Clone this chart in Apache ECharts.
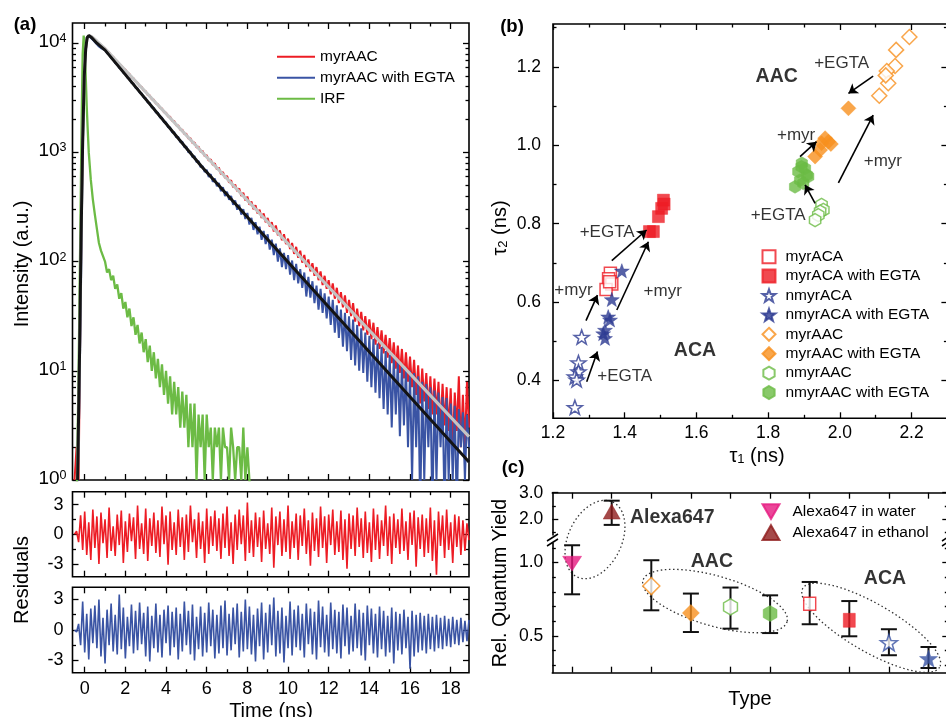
<!DOCTYPE html>
<html><head><meta charset="utf-8">
<script src="https://cdn.jsdelivr.net/npm/echarts@6/dist/echarts.min.js"></script>
<style>html,body{margin:0;padding:0;background:#fff}#c{width:946px;height:717px}</style>
</head><body><div id="c"></div>
<script>
// ======================= DATA =======================
// (a) decay channels: time grid (ns), -0.5 .. 18.9 step 0.1
const T0 = -0.5, DT = 0.1, NPTS = 195;
const timeNs = Array.from({length: NPTS}, (_, i) => +(T0 + i * DT).toFixed(2));
// log10(counts)
const myrAAC_log10 = [
 0,0.3,0,1.7,3.1,
 3.8,4.03,4.07,4.06,4.05,4.03,4.01,3.99,3.975,3.96,
 3.955,3.925,3.915,3.885,3.875,3.848,3.835,3.806,3.795,3.768,
 3.758,3.727,3.718,3.686,3.678,3.646,3.638,3.607,3.599,3.567,
 3.561,3.526,3.521,3.487,3.482,3.447,3.442,3.406,3.402,3.367,
 3.364,3.328,3.326,3.288,3.287,3.247,3.247,3.207,3.208,3.168,
 3.17,3.126,3.13,3.085,3.092,3.045,3.053,3.005,3.013,2.965,
 2.975,2.925,2.937,2.885,2.9,2.845,2.86,2.8,2.82,2.765,
 2.785,2.722,2.745,2.68,2.705,2.645,2.67,2.6,2.63,2.56,
 2.595,2.52,2.55,2.48,2.515,2.44,2.475,2.4,2.44,2.36,
 2.4,2.32,2.36,2.275,2.33,2.24,2.285,2.195,2.25,2.16,
 2.21,2.115,2.17,2.07,2.135,2.035,2.1,1.99,2.06,1.95,
 2.02,1.91,1.985,1.87,1.95,1.83,1.91,1.785,1.87,1.75,
 1.83,1.7,1.8,1.66,1.76,1.62,1.72,1.58,1.69,1.53,
 1.65,1.5,1.62,1.45,1.57,1.41,1.54,1.37,1.5,1.33,
 1.47,1.29,1.44,1.24,1.4,1.2,1.37,1.16,1.33,1.12,
 1.3,1.07,1.26,1.02,1.23,0.98,1.2,0.93,1.17,0.9,
 1.13,0.85,1.1,0.78,1.05,0.7,1.02,0.72,0.98,0.65,
 0.95,0.6,0.93,0.6,0.9,0.48,0.88,0.5,0.85,0.45,
 0.84,0.3,0.8,0.45,0.95,0.3,0.78,0.3,0.9,0.48
];
const myrAAC_EGTA_log10 = [
 -0.3,-0.3,0.3,1.5,3.0,
 3.78,4.03,4.065,4.05,4.03,4.01,3.99,3.97,3.955,3.945,
 3.94,3.908,3.897,3.863,3.852,3.818,3.808,3.773,3.763,3.728,
 3.719,3.682,3.674,3.637,3.63,3.592,3.585,3.547,3.54,3.502,
 3.496,3.456,3.452,3.41,3.408,3.365,3.363,3.32,3.318,3.275,
 3.275,3.23,3.23,3.183,3.186,3.138,3.142,3.093,3.098,3.047,
 3.054,3.0,3.01,2.955,2.966,2.91,2.92,2.865,2.875,2.82,
 2.84,2.775,2.8,2.73,2.76,2.69,2.72,2.645,2.68,2.6,
 2.64,2.565,2.6,2.52,2.56,2.475,2.52,2.43,2.48,2.39,
 2.445,2.34,2.4,2.29,2.36,2.25,2.32,2.2,2.28,2.16,
 2.25,2.11,2.2,2.06,2.165,2.0,2.12,1.95,2.08,1.93,
 2.06,1.88,2.01,1.83,1.98,1.8,1.93,1.76,1.9,1.68,
 1.86,1.67,1.82,1.62,1.78,1.56,1.75,1.53,1.71,1.48,
 1.68,1.42,1.65,1.35,1.6,1.3,1.56,1.22,1.53,1.18,
 1.5,1.1,1.47,1.05,1.42,1.0,1.39,0.98,1.35,0.9,
 1.32,0.85,1.29,0.8,1.25,0.75,1.22,0.65,1.18,0.6,
 1.15,0.48,1.12,0.6,1.1,0.4,1.06,0.5,1.03,0.3,
 1.0,0.0,0.98,0.3,0.95,-0.3,0.9,0.0,0.88,0.3,
 0.85,-0.3,0.82,0.0,0.8,0.3,0.76,-0.3,0.75,0.0,
 0.7,0.0,0.68,-0.3,0.65,0.3,0.62,0.0,0.6,0.3
];
// IRF: [time ns, log10(counts)]
const irf_log10 = [
 [-0.45,-0.3],[-0.38,0],[-0.3,1.0],[-0.22,2.2],[-0.15,3.3],[-0.1,3.9],[-0.05,4.07],[0,3.95],[0.05,3.7],
 [0.1,3.42],[0.15,3.2],[0.2,3.0],[0.3,2.75],[0.4,2.57],[0.5,2.43],[0.6,2.3],[0.7,2.17],[0.8,2.1],[0.9,2.05],
 [1.0,2.0],[1.1,1.9],[1.2,1.93],[1.3,1.83],[1.4,1.87],[1.5,1.75],[1.6,1.79],[1.7,1.66],[1.8,1.71],[1.9,1.57],
 [2.0,1.63],[2.1,1.49],[2.2,1.57],[2.3,1.41],[2.4,1.49],[2.5,1.33],[2.6,1.42],[2.7,1.25],[2.8,1.35],[2.9,1.17],
 [3.0,1.29],[3.1,1.08],[3.2,1.23],[3.3,1.0],[3.4,1.17],[3.5,0.93],[3.6,1.11],[3.7,0.85],[3.8,1.06],[3.9,0.78],
 [4.0,1.0],[4.1,0.7],[4.2,0.95],[4.3,0.6],[4.4,0.9],[4.5,0.6],[4.6,0.85],[4.7,0.48],[4.8,0.81],[4.9,0.48],
 [5.0,0.78],[5.1,0.3],[5.2,0.7],[5.3,0.3],[5.4,0.7],[5.5,0.0],[5.6,0.6],[5.7,0.3],[5.8,0.6],[5.9,0.0],
 [6.0,0.6],[6.1,0.3],[6.2,0.48],[6.3,0.0],[6.4,0.48],[6.5,0.3],[6.6,0.48],[6.7,0.0],[6.8,0.48],[6.9,0.3],
 [7.0,0.3],[7.1,0.0],[7.2,0.48],[7.3,0.3],[7.4,0.0],[7.5,0.3],[7.6,0.3],[7.7,0.0],[7.8,0.48],[7.9,0.0],
 [8.0,0.3],[8.1,0.0],[8.2,-0.3]
];
// fitted curves: [time ns, log10(counts)]
const fitMyrAAC_log10 = [[-0.35,0],[-0.25,1.2],[-0.18,2.2],[-0.1,3.1],[-0.02,3.7],[0.05,3.95],[0.12,4.05],[0.2,4.07],[0.35,4.06],[0.6,4.02],[1.0,3.95],[18.9,0.397]];
const fitMyrAAC_EGTA_log10 = [[-0.35,0],[-0.25,1.2],[-0.18,2.2],[-0.1,3.1],[-0.02,3.7],[0.05,3.95],[0.12,4.05],[0.2,4.07],[0.35,4.05],[0.6,4.0],[1.0,3.936],[5.76,2.868],[18.9,0.165]];
// weighted residuals
const resMyrAAC = [
 0,0.3,-0.8,1.9,-1.6,2.3,-2.1,1.2,-2.6,2.5,
 -1.4,1.8,-3.0,2.2,-0.9,1.5,-2.4,2.7,-1.7,0.8,
 -2.2,2.0,-1.1,2.4,-2.9,1.3,-1.8,2.1,-0.7,1.7,
 -2.5,2.9,-1.5,1.1,-2.0,2.6,-2.7,1.6,-1.2,2.2,
 -1.9,1.4,-2.3,2.8,-1.0,1.9,-3.1,2.3,-1.6,1.2,
 -2.1,2.5,-1.3,1.7,-2.6,2.0,-1.8,2.9,-0.8,1.5,
 -2.4,2.2,-1.5,1.3,-2.9,2.6,-2.0,1.8,-1.2,2.4,
 -1.7,1.6,-2.5,2.1,-1.4,2.8,-2.2,1.2,-3.0,2.0,
 -1.6,2.5,-1.0,1.9,-2.7,3.2,-1.9,1.4,-2.3,2.2,
 -1.3,1.7,-2.8,2.4,-1.5,1.1,-2.0,2.7,-3.4,1.8,
 -1.1,2.3,-2.2,1.5,-1.8,2.9,-2.5,1.3,-1.4,2.1,
 -2.6,1.9,-1.2,2.6,-2.0,1.4,-3.2,2.2,-1.7,1.6,
 -2.3,2.8,-1.4,1.8,-2.9,2.0,-1.1,2.5,-2.1,1.3,
 -1.8,2.4,-2.6,1.5,-3.5,2.1,-1.5,1.9,-2.2,2.7,
 -1.3,1.6,-2.4,2.3,-1.9,1.2,-2.8,2.6,-1.6,2.0,
 -2.5,1.4,-1.2,2.9,-2.2,1.8,-3.0,2.1,-1.4,1.5,
 -2.0,2.6,-1.7,1.3,-2.6,2.2,-1.1,2.4,-3.3,1.7,
 -1.5,2.0,-2.3,1.6,-1.9,2.7,-2.7,1.4,-4.1,2.3,
 -1.2,1.9,-2.4,2.5,-1.6,1.2,-2.9,2.0,-1.3,1.8,
 -2.1,1.4,-1.7,1.1,-0.6
];
const resMyrAAC_EGTA = [
 0,-0.2,0.6,-1.5,2.8,-2.2,1.6,-2.9,2.1,-1.3,
 2.4,-1.8,3.0,-2.6,1.2,-3.3,2.0,-1.5,2.6,-2.1,
 1.5,-2.4,3.5,-1.9,2.2,-2.8,1.3,-1.6,2.5,-2.3,
 1.9,-2.0,2.7,-1.4,1.7,-2.6,2.3,-3.1,1.4,-1.8,
 2.6,-2.2,1.5,-2.7,2.0,-1.3,2.4,-2.5,1.8,-1.7,
 2.2,-2.9,1.6,-2.1,2.8,-1.5,1.9,-2.4,2.5,-3.0,
 1.3,-1.9,2.3,-2.6,1.7,-2.2,2.7,-1.6,2.0,-2.8,
 1.5,-2.3,2.4,-1.8,2.9,-2.5,1.6,-2.0,2.2,-1.4,
 2.6,-2.7,1.8,-2.1,3.0,-1.9,2.3,-2.4,1.5,-3.1,
 2.1,-1.6,2.7,-2.9,1.7,-2.2,2.5,-1.5,3.2,-2.6,
 1.9,-2.3,2.2,-3.2,1.4,-1.8,2.8,-2.5,2.0,-1.7,
 2.4,-2.0,1.6,-2.7,2.6,-1.4,2.1,-2.4,1.8,-2.9,
 2.9,-1.7,2.3,-2.2,1.5,-2.6,2.7,-1.9,2.0,-2.3,
 1.8,-2.8,2.5,-1.6,2.2,-2.4,1.4,-2.1,2.6,-1.8,
 2.0,-2.5,1.7,-3.0,2.4,-1.5,2.1,-2.3,1.6,-2.7,
 2.3,-1.9,1.9,-2.6,1.4,-2.2,2.2,-3.3,1.8,-2.0,
 1.6,-2.4,2.0,-1.8,1.3,-3.8,1.9,-2.6,1.5,-2.2,
 1.7,-2.0,1.4,-2.3,1.6,-1.9,1.3,-2.1,1.5,-1.8,
 1.2,-1.9,1.4,-1.6,1.1,-1.7,1.3,-1.4,1.0,-1.5,
 1.2,-1.2,0.9,-1.1,1.0
];
const logTickLabels = [1, 10, 100, 1000, 10000];
const logMinorTicks = [2,3,4,5,6,7,8,9,20,30,40,50,60,70,80,90,200,300,400,500,600,700,800,900,2000,3000,4000,5000,6000,7000,8000,9000];
const timeTickLabels = [0,2,4,6,8,10,12,14,16,18];
const timeMinorTicks = [1,3,5,7,9,11,13,15,17];
const residTickLabels = [-3,0,3];
const residMinorTicks = [-1.5,1.5];

// (b) [tau1 ns, tau2 ns]
const b_myrACA = [[1.36,0.674],[1.355,0.66],[1.364,0.646],[1.348,0.632],[1.358,0.652]];
const b_myrACA_EGTA = [[1.508,0.86],[1.503,0.839],[1.494,0.818],[1.48,0.78],[1.469,0.78],[1.51,0.85]];
const b_nmyrACA = [[1.28,0.511],[1.271,0.446],[1.271,0.423],[1.261,0.41],[1.266,0.402],[1.261,0.332]];
const b_nmyrACA_EGTA = [[1.392,0.68],[1.364,0.607],[1.354,0.563],[1.359,0.555],[1.345,0.529],[1.345,0.508],[1.34,0.52]];
const b_myrAAC = [[2.194,1.276],[2.157,1.243],[2.154,1.202],[2.131,1.189],[2.135,1.158],[2.110,1.126],[2.128,1.178]];
const b_myrAAC_EGTA = [[2.024,1.094],[1.959,1.018],[1.968,1.009],[1.949,1.005],[1.945,0.988],[1.931,0.971],[1.975,1.003]];
const b_nmyrAAC = [[1.949,0.848],[1.954,0.835],[1.945,0.831],[1.94,0.822],[1.931,0.809]];
const b_nmyrAAC_EGTA = [[1.894,0.954],[1.903,0.941],[1.908,0.924],[1.889,0.911],[1.912,0.92],[1.875,0.894],[1.898,0.903],[1.884,0.933],[1.893,0.945]];
const tau1TickLabels = [1.2,1.4,1.6,1.8,2.0,2.2];
const tau1MinorTicks = [1.3,1.5,1.7,1.9,2.1,2.3];
const tau2TickLabels = [0.4,0.6,0.8,1.0,1.2];
const tau2MinorTicks = [0.5,0.7,0.9,1.1,1.3];
// (b) arrows [x1,y1,x2,y2] and notes [text,x,y]
const b_arrows = [[2.093,1.176,2.024,1.132],[1.889,0.971,1.935,1.009],[1.996,0.904,2.093,1.077],[1.931,0.852,1.903,0.899],
  [1.364,0.706,1.461,0.784],[1.292,0.553,1.324,0.618],[1.378,0.58,1.466,0.754],[1.294,0.397,1.324,0.474]];
const b_notes = [['+EGTA',2.005,1.209],['+myr',1.878,1.026],['+myr',2.12,0.958],['+EGTA',1.828,0.822],
  ['+EGTA',1.351,0.779],['+myr',1.257,0.629],['+myr',1.506,0.627],['+EGTA',1.40,0.41]];
const b_groups = [['AAC',1.824,1.175],['ACA',1.596,0.476]];

// (c) relative quantum yield
const c_types = ['Alexa647 in water','Alexa647 in ethanol','myrAAC','myrAAC with EGTA','nmyrAAC','nmyrAAC with EGTA','myrACA','myrACA with EGTA','nmyrACA','nmyrACA with EGTA'];
const c_yield = [0.993,2.29,0.84,0.657,0.698,0.653,0.72,0.607,0.455,0.346];
const c_low   = [0.784,1.79,0.675,0.527,0.55,0.52,0.58,0.498,0.369,0.282];
const c_high  = [1.118,2.7,1.016,0.789,0.83,0.777,0.868,0.738,0.546,0.425];
const c_breakAt = 1.3;
const c_upperTickLabels = [2.0,3.0], c_upperMinorTicks = [1.5,2.5];
const c_lowerTickLabels = [0.5,1.0], c_lowerMinorTicks = [0.3,0.4,0.6,0.7,0.8,0.9,1.1];
const c_groups = [['AAC',4.53,1.004],['ACA',8.9,0.893]];

// ======================= STYLE / LAYOUT =======================
const FONT = "'Liberation Sans', Arial, Helvetica, sans-serif";
const C_RED='#ed1c24', C_BLUE='#3a54a4', C_NAVY='#2c3a91', C_GREEN='#6cbb45', C_ORANGE='#f7901e', C_PINK='#e6197f', C_DRED='#8e1b1b';
const SYM_STAR = 'path://M0,-10L2.351,-3.236L9.511,-3.09L3.804,1.236L5.878,8.09L0,4L-5.878,8.09L-3.804,1.236L-9.511,-3.09L-2.351,-3.236Z';
const SYM_HEX = 'path://M0,-10L8.66,-5L8.66,5L0,10L-8.66,5L-8.66,-5Z';
const SYM_TRI_DOWN = 'path://M-10,-8.66L10,-8.66L0,8.66Z';
const L = {
  a:{left:72.5, top:23, width:396.5, height:457},
  r1:{left:72.5, top:491.7, width:396.5, height:85},
  r2:{left:72.5, top:587.3, width:396.5, height:85.4},
  b:{left:553, top:24, width:394.4, height:394.3},
  cu:{left:552.3, top:492.7, width:396, height:42.3},
  cl:{left:552.3, top:543.5, width:396, height:129.2}
};
const grids = [
  Object.assign({show:true, borderColor:'#000', borderWidth:1.6}, L.a),
  Object.assign({show:true, borderColor:'#000', borderWidth:1.6}, L.r1),
  Object.assign({show:true, borderColor:'#000', borderWidth:1.6}, L.r2),
  Object.assign({show:true, borderColor:'#000', borderWidth:1.6}, L.b),
  Object.assign({show:false}, L.cu),
  Object.assign({show:false}, L.cl)
].map(g => Object.assign(g, {containLabel:false, outerBoundsMode:'none', backgroundColor:'transparent'}));

function ax(g, o) {
  const a = {
    type: o.type || 'value', gridIndex: g, min: o.min, max: o.max, position: o.pos,
    splitLine: {show:false},
    axisLine: {show: !!o.line, onZero: false, lineStyle: {color:'#000', width:1.6}},
    axisTick: {show: !!o.ticks, inside: true, length: o.len || 6, customValues: o.ticks, lineStyle: {color:'#000', width:1.3}},
    axisLabel: o.labels ? {show:true, customValues:o.labels, formatter:o.fmt, margin:o.margin || 7, color:'#000',
      fontFamily:FONT, fontSize:o.fs || 17.5, rich:o.rich, padding:o.pad} : {show:false},
    axisPointer: {show:false}, silent: true
  };
  if (o.type === 'log') a.logBase = 10;
  return a;
}
const xAxes = [], yAxes = [];
const addX = (g, o) => (xAxes.push(ax(g, o)), xAxes.length - 1);
const addY = (g, o) => (yAxes.push(ax(g, o)), yAxes.length - 1);
function frameX(g, min, max, major, minor, labels, fmt) {
  const i = addX(g, {min, max, pos:'bottom', ticks:major, labels, fmt, fs:18, margin:7});
  addX(g, {min, max, pos:'bottom', ticks:minor, len:3.5});
  addX(g, {min, max, pos:'top', ticks:major});
  addX(g, {min, max, pos:'top', ticks:minor, len:3.5});
  return i;
}
function frameY(g, o, major, minor) {
  const i = addY(g, Object.assign({pos:'left', ticks:major}, o));
  const base = {type:o.type, min:o.min, max:o.max};
  addY(g, Object.assign({pos:'left', ticks:minor, len:3.5}, base));
  addY(g, Object.assign({pos:'right', ticks:major}, base));
  addY(g, Object.assign({pos:'right', ticks:minor, len:3.5}, base));
  return i;
}
const TMIN = -0.6, TMAX = 18.9;
const XA = frameX(0, TMIN, TMAX, timeTickLabels, timeMinorTicks);
const YA = frameY(0, {type:'log', min:1, max:15300, labels:logTickLabels, margin:6, pad:[0,0,3,0],
  fmt: v => '{b|10}{s|' + Math.round(Math.log10(v)) + '}',
  rich: {b:{fontSize:19, fontFamily:FONT, color:'#000', lineHeight:19, padding:[6,0,0,0], verticalAlign:'bottom'},
         s:{fontSize:12.5, fontFamily:FONT, color:'#000', lineHeight:13, verticalAlign:'top'}}}, logTickLabels, logMinorTicks);
const XR1 = frameX(1, TMIN, TMAX, timeTickLabels, timeMinorTicks);
const YR1 = frameY(1, {min:-4.3, max:4.3, labels:residTickLabels, margin:9, fs:18}, residTickLabels, residMinorTicks);
const XR2 = frameX(2, TMIN, TMAX, timeTickLabels, timeMinorTicks, timeTickLabels, v => String(v));
const YR2 = frameY(2, {min:-4.2, max:4.2, labels:residTickLabels, margin:9, fs:18}, residTickLabels, residMinorTicks);
const XB = addX(3, {min:1.2, max:2.3, pos:'bottom', ticks:tau1TickLabels, labels:tau1TickLabels, fmt:v=>v.toFixed(1), margin:6});
addX(3, {min:1.2, max:2.3, pos:'bottom', ticks:tau1MinorTicks, len:3.5});
addX(3, {min:1.2, max:2.3, pos:'top', ticks:tau1TickLabels});
addX(3, {min:1.2, max:2.3, pos:'top', ticks:tau1MinorTicks, len:3.5});
const YB = frameY(3, {min:0.304, max:1.309, labels:tau2TickLabels, fmt:v=>v.toFixed(1), margin:12}, tau2TickLabels, tau2MinorTicks);
const typeTicks = c_types.map((_, i) => i + 1);
const XCU = addX(4, {min:0.5, max:10.5, pos:'bottom'});
addX(4, {min:0.5, max:10.5, pos:'top', line:true, ticks:typeTicks});
const XCL = addX(5, {min:0.5, max:10.5, pos:'bottom', line:true, ticks:typeTicks});
const YCU = addY(4, {min:1.41, max:3.0, pos:'left', line:true, ticks:c_upperTickLabels, labels:c_upperTickLabels, fmt:v=>v.toFixed(1), margin:9});
addY(4, {min:1.41, max:3.0, pos:'left', ticks:c_upperMinorTicks, len:3.5});
addY(4, {min:1.41, max:3.0, pos:'right', ticks:c_upperTickLabels});
addY(4, {min:1.41, max:3.0, pos:'right', ticks:c_upperMinorTicks, len:3.5});
const YCL = addY(5, {min:0.25, max:1.13, pos:'left', line:true, ticks:c_lowerTickLabels, labels:c_lowerTickLabels, fmt:v=>v.toFixed(1), margin:9});
addY(5, {min:0.25, max:1.13, pos:'left', ticks:c_lowerMinorTicks, len:3.5});
addY(5, {min:0.25, max:1.13, pos:'right', ticks:c_lowerTickLabels});
addY(5, {min:0.25, max:1.13, pos:'right', ticks:c_lowerMinorTicks, len:3.5});

// ======================= SERIES =======================
const pow10 = v => Math.pow(10, v);
const series = [];
const lineS = (name, xi, yi, data, color, width, z) => ({name, type:'line', xAxisIndex:xi, yAxisIndex:yi, data,
  symbol:'none', showSymbol:false, lineStyle:{color, width}, itemStyle:{color}, z: z || 2, clip:true, silent:true});
series.push(lineS('myrAAC', XA, YA, timeNs.map((t, i) => [t, pow10(myrAAC_log10[i])]), C_RED, 2));
series.push(lineS('myrAAC with EGTA', XA, YA, timeNs.map((t, i) => [t, pow10(myrAAC_EGTA_log10[i])]), C_BLUE, 2));
series.push(lineS('IRF', XA, YA, irf_log10.map(p => [p[0], pow10(p[1])]), C_GREEN, 2.3));
series.push(lineS('fit myrAAC', XA, YA, fitMyrAAC_log10.map(p => [p[0], pow10(p[1])]), '#c4c4c4', 3, 3));
series.push(lineS('fit myrAAC with EGTA', XA, YA, fitMyrAAC_EGTA_log10.map(p => [p[0], pow10(p[1])]), '#141414', 3, 3));
series.push(lineS('residuals myrAAC', XR1, YR1, timeNs.map((t, i) => [t, resMyrAAC[i]]), C_RED, 1.6));
series.push(lineS('residuals myrAAC with EGTA', XR2, YR2, timeNs.map((t, i) => [t, resMyrAAC_EGTA[i]]), C_BLUE, 1.6));

// (b)
const openS = c => ({color:'#fff', borderColor:c, borderWidth:1.5});
const fillS = c => ({color:c, borderColor:c, borderWidth:0.5});
const bDefs = [
  ['b:myrACA', b_myrACA, 'rect', 12, openS(C_RED)],
  ['b:myrACA with EGTA', b_myrACA_EGTA, 'rect', 12, fillS(C_RED)],
  ['b:nmyrACA', b_nmyrACA, SYM_STAR, 15, openS(C_NAVY)],
  ['b:nmyrACA with EGTA', b_nmyrACA_EGTA, SYM_STAR, 15, fillS(C_NAVY)],
  ['b:myrAAC', b_myrAAC, 'diamond', 15, openS(C_ORANGE)],
  ['b:myrAAC with EGTA', b_myrAAC_EGTA, 'diamond', 15, fillS(C_ORANGE)],
  ['b:nmyrAAC', b_nmyrAAC, SYM_HEX, 13, openS(C_GREEN)],
  ['b:nmyrAAC with EGTA', b_nmyrAAC_EGTA, SYM_HEX, 13, fillS(C_GREEN)]
];
bDefs.forEach(d => series.push({name:d[0], type:'scatter', xAxisIndex:XB, yAxisIndex:YB, data:d[1],
  symbol:d[2], symbolSize:d[3], symbolKeepAspect:true, itemStyle:d[4], z:4, silent:true}));
series.push({name:'b-notes', type:'scatter', xAxisIndex:XB, yAxisIndex:YB, symbolSize:0, silent:true, z:5,
  data: b_notes.map(n => ({name:n[0], value:[n[1], n[2]]})).concat(
        b_groups.map(n => ({name:n[0], value:[n[1], n[2]], label:{fontWeight:'bold', fontSize:19.5}}))),
  label:{show:true, position:'inside', formatter:p => p.name, color:'#000', fontFamily:FONT, fontSize:17},
  markLine:{silent:true, symbol:['none','arrow'], symbolSize:9, label:{show:false},
    lineStyle:{color:'#000', width:1.6, type:'solid'},
    data: b_arrows.map(a => [{coord:[a[0], a[1]]}, {coord:[a[2], a[3]]}])}
});

// (c)
const cStyles = [
  [SYM_TRI_DOWN, [19,17], fillS(C_PINK)], ['triangle', [17,15], fillS(C_DRED)],
  ['diamond', 17, openS(C_ORANGE)], ['diamond', 17, fillS(C_ORANGE)],
  [SYM_HEX, 16, openS(C_GREEN)], [SYM_HEX, 16, fillS(C_GREEN)],
  ['rect', [12,13], openS(C_RED)], ['rect', [12,14], fillS(C_RED)],
  [SYM_STAR, 17, openS(C_BLUE)], [SYM_STAR, 18, fillS(C_BLUE)]
];
const upper = i => c_yield[i] > c_breakAt;
const errRender = (params, api) => {
  const x = api.value(0), p1 = api.coord([x, api.value(1)]), p2 = api.coord([x, api.value(2)]), w = 8;
  const st = {stroke:'#111', lineWidth:2};
  return {type:'group', children:[
    {type:'line', shape:{x1:p1[0], y1:p1[1], x2:p2[0], y2:p2[1]}, style:st},
    {type:'line', shape:{x1:p1[0]-w, y1:p1[1], x2:p1[0]+w, y2:p1[1]}, style:st},
    {type:'line', shape:{x1:p2[0]-w, y1:p2[1], x2:p2[0]+w, y2:p2[1]}, style:st}]};
};
[[XCU, YCU, true], [XCL, YCL, false]].forEach(([xi, yi, up]) => {
  series.push({name: up ? 'err-upper' : 'err-lower', type:'custom', xAxisIndex:xi, yAxisIndex:yi, silent:true, clip:false, z:3,
    encode:{x:0, y:[1,2]}, renderItem:errRender,
    data: c_types.map((_, i) => i).filter(i => upper(i) === up).map(i => [i + 1, c_low[i], c_high[i]])});
});
c_types.forEach((t, i) => {
  const s = cStyles[i];
  series.push({name:'c:' + t, type:'scatter', xAxisIndex: upper(i) ? XCU : XCL, yAxisIndex: upper(i) ? YCU : YCL,
    data:[[i + 1, c_yield[i]]], symbol:s[0], symbolSize:s[1], symbolKeepAspect:true, itemStyle:s[2], z:5, silent:true, clip:false});
});
// dotted group ellipses: [centre x, centre y (lower panel units), semi-axis a px, semi-axis b px, tilt deg]
const c_ellipses = [[1.578,1.157,41.5,26.7,64.6],[4.609,0.738,75,25,-16],[8.553,0.556,79,24,-30]];
series.push({name:'c-groups', type:'custom', xAxisIndex:XCL, yAxisIndex:YCL, clip:false, silent:true, z:2, encode:{x:0, y:1},
  data:c_ellipses,
  renderItem:(params, api) => {
    const c = api.coord([api.value(0), api.value(1)]), a = api.value(2), b = api.value(3), th = api.value(4) * Math.PI / 180;
    const pts = [];
    for (let k = 0; k < 90; k++) {
      const f = k / 90 * 2 * Math.PI, ux = a * Math.cos(f), uy = b * Math.sin(f);
      pts.push([c[0] + ux * Math.cos(th) + uy * Math.sin(th), c[1] - ux * Math.sin(th) + uy * Math.cos(th)]);
    }
    return {type:'polygon', shape:{points:pts}, style:{fill:'none', stroke:'#333', lineWidth:1.3, lineDash:[1.5,2.6]}};
  }});
series.push({name:'c-notes-lower', type:'scatter', xAxisIndex:XCL, yAxisIndex:YCL, symbolSize:0, silent:true, z:5, clip:false,
  data: c_groups.map(n => ({name:n[0], value:[n[1], n[2]]})),
  label:{show:true, position:'inside', formatter:p => p.name, color:'#000', fontFamily:FONT, fontSize:19.5, fontWeight:'bold'}});
series.push({name:'c-notes-upper', type:'scatter', xAxisIndex:XCU, yAxisIndex:YCU, symbolSize:0, silent:true, z:5, clip:false,
  data:[{name:'Alexa647', value:[2.46, 2.05]}],
  label:{show:true, position:'right', distance:0, formatter:p => p.name, color:'#000', fontFamily:FONT, fontSize:19.5, fontWeight:'bold'}});

// ======================= TEXT / LEGENDS =======================
const txt = (x, y, text, size, o) => Object.assign({type:'text', x, y, silent:true, z:20,
  style:{text, fontFamily:FONT, fontSize:size, fill:'#000', align:'center', verticalAlign:'middle'}}, o || {});
const boldTxt = (x, y, text) => ({type:'text', x, y, silent:true, z:20,
  style:{text, fontFamily:FONT, fontSize:18.5, fontWeight:'bold', fill:'#000', align:'center', verticalAlign:'middle'}});
const tauRich = {t:{fontSize:20, fontFamily:FONT, fill:'#000', lineHeight:20, padding:[0,0,6,0], verticalAlign:'top'},
                 s:{fontSize:13, fontFamily:FONT, fill:'#000', lineHeight:13, verticalAlign:'bottom'}};
const graphic = [
  boldTxt(25, 25, '(a)'), boldTxt(512, 27, '(b)'), boldTxt(513, 468, '(c)'),
  txt(22, 264, 'Intensity (a.u.)', 20, {rotation:Math.PI/2}),
  txt(22, 580, 'Residuals', 20, {rotation:Math.PI/2}),
  txt(271, 711, 'Time (ns)', 20),
  txt(750, 699, 'Type', 20),
  txt(501, 583, 'Rel. Quantum Yield', 19.5, {rotation:Math.PI/2}),
  {type:'text', x:757, y:456, silent:true, z:20, style:{text:'{t|τ}{s|1}{t| (ns)}', rich:tauRich, align:'center', verticalAlign:'middle'}},
  {type:'text', x:500, y:228, rotation:Math.PI/2, silent:true, z:20, style:{text:'{t|τ}{s|2}{t| (ns)}', rich:tauRich, align:'center', verticalAlign:'middle'}},
  {type:'line', silent:true, z:20, shape:{x1:547, y1:541, x2:558, y2:534}, style:{stroke:'#000', lineWidth:1.5}},
  {type:'line', silent:true, z:20, shape:{x1:547, y1:546, x2:558, y2:539}, style:{stroke:'#000', lineWidth:1.5}},
  {type:'line', silent:true, z:20, shape:{x1:942, y1:541, x2:953, y2:534}, style:{stroke:'#000', lineWidth:1.5}},
  {type:'line', silent:true, z:20, shape:{x1:942, y1:546, x2:953, y2:539}, style:{stroke:'#000', lineWidth:1.5}}
];
const legTS = {fontFamily:FONT, fontSize:15.5, color:'#000'};
const legends = [
  {data:['myrAAC','myrAAC with EGTA','IRF'], orient:'vertical', left:277, top:48.7, padding:0, icon:'rect',
   itemWidth:38, itemHeight:2, itemGap:5, selectedMode:false, textStyle:Object.assign({}, legTS)},
  {data:bDefs.map(d => d[0]), formatter:n => n.slice(2), orient:'vertical', left:761.5, top:248.7, padding:0,
   itemWidth:13, itemHeight:13, itemGap:3.4, selectedMode:false, textStyle:Object.assign({padding:[0,0,0,5]}, legTS)},
  {data:['c:Alexa647 in water','c:Alexa647 in ethanol'], formatter:n => n.slice(2), orient:'vertical', left:761.5, top:503.2, padding:0,
   itemWidth:17, itemHeight:15, itemGap:4.2, selectedMode:false, textStyle:Object.assign({padding:[0,0,0,8]}, legTS)}
];

const chart = echarts.init(document.getElementById('c'), null, {renderer:'canvas'});
chart.setOption({
  animation:false, backgroundColor:'#fff', textStyle:{fontFamily:FONT},
  grid:grids, xAxis:xAxes, yAxis:yAxes, series, legend:legends, graphic
});
</script></body></html>
